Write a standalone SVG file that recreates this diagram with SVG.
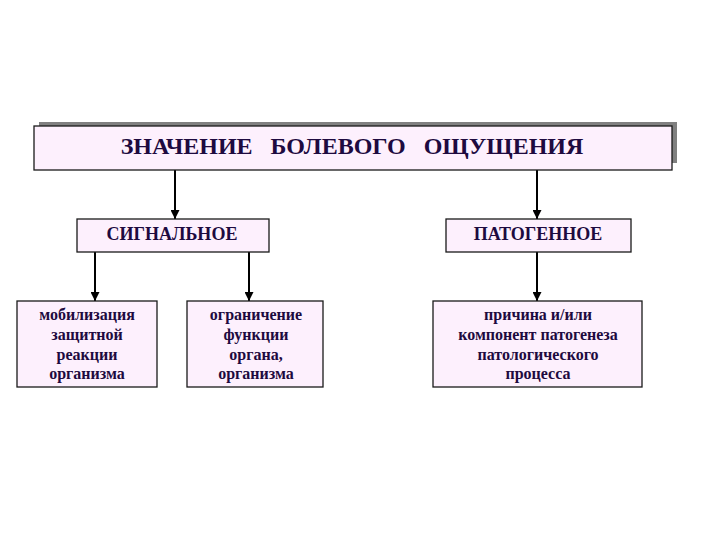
<svg xmlns="http://www.w3.org/2000/svg" width="720" height="540" viewBox="0 0 720 540">
<style>
.box{fill:#fdf0fd;stroke:#1a1a1a;stroke-width:1.3}
.t{font-family:"Liberation Serif","Times New Roman",serif;font-weight:bold;fill:#1e0a40;text-anchor:middle}
.title{font-size:24px}
.h{font-size:18px}
.b{font-size:16px}
.c{stroke:#000;stroke-width:2;fill:none;marker-end:url(#ah)}
</style>
<defs>
<marker id="ah" viewBox="0 0 10 10" refX="10" refY="5" markerWidth="4.5" markerHeight="4.5" orient="auto" markerUnits="strokeWidth">
<path d="M0,0 L10,5 L0,10 z" fill="#000"/>
</marker>
</defs>
<rect width="720" height="540" fill="#fff"/>
<g id="connectors">
<line class="c" x1="175" y1="170" x2="175" y2="219"/>
<line class="c" x1="537" y1="170" x2="537" y2="219"/>
<line class="c" x1="95" y1="252" x2="95" y2="301"/>
<line class="c" x1="249" y1="252" x2="249" y2="301"/>
<line class="c" x1="537" y1="252" x2="537" y2="301"/>
</g>
<g id="root">
<rect x="39" y="122" width="638" height="41" fill="#808080"/>
<rect class="box" x="34" y="126" width="638" height="44"/>
<text class="t title" x="352" y="154" xml:space="preserve">ЗНАЧЕНИЕ   БОЛЕВОГО   ОЩУЩЕНИЯ</text>
</g>
<g id="signal">
<rect class="box" x="77" y="219" width="192" height="33"/>
<text class="t h" x="172" y="240">СИГНАЛЬНОЕ</text>
</g>
<g id="pathogenic">
<rect class="box" x="446" y="219" width="185" height="33"/>
<text class="t h" x="538" y="240">ПАТОГЕННОЕ</text>
</g>
<g id="mobilization">
<rect class="box" x="17" y="301" width="140" height="86"/>
<text class="t b" x="87" y="320">мобилизация</text>
<text class="t b" x="87" y="340">защитной</text>
<text class="t b" x="87" y="359.5">реакции</text>
<text class="t b" x="87" y="379">организма</text>
</g>
<g id="limitation">
<rect class="box" x="187" y="301" width="136" height="86"/>
<text class="t b" x="256" y="320">ограничение</text>
<text class="t b" x="256" y="340">функции</text>
<text class="t b" x="256" y="359.5">органа,</text>
<text class="t b" x="256" y="379">организма</text>
</g>
<g id="cause">
<rect class="box" x="433" y="301" width="209" height="86"/>
<text class="t b" x="538" y="320">причина и/или</text>
<text class="t b" x="538" y="340">компонент патогенеза</text>
<text class="t b" x="538" y="359.5">патологического</text>
<text class="t b" x="538" y="379">процесса</text>
</g>
</svg>
